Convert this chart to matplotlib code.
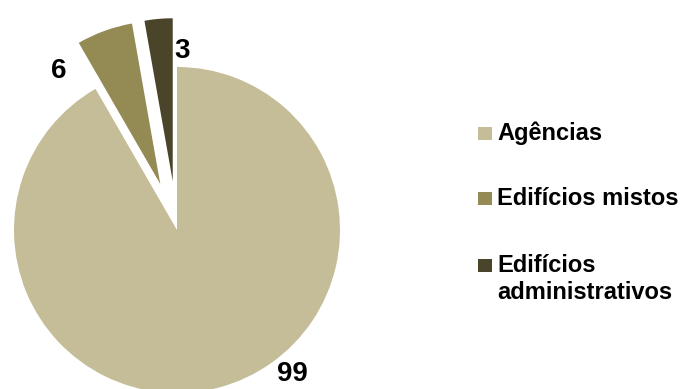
import matplotlib
matplotlib.use("Agg")
import matplotlib.pyplot as plt
from matplotlib.patches import Rectangle

categories = ["Agências", "Edifícios mistos", "Edifícios\nadministrativos"]
values = [99, 6, 3]
colors = ["#C4BD97", "#948A54", "#4A452A"]
explode = [0.0, 0.3, 0.3]

W, H = 682, 389
fig = plt.figure(figsize=(W / 100, H / 100), dpi=100)
fig.patch.set_facecolor("white")

# pie axes: centre at (177, 230) px from top-left, radius 163 px
cx, cy, R = 177, 389 - 230, 163
ax = fig.add_axes([0, 0, 1, 1])

wedges, _ = ax.pie(values, colors=colors, explode=explode, startangle=90,
                   counterclock=False, radius=1.0,
                   wedgeprops=dict(linewidth=0))

ax.set_xlim(-cx / R, (W - cx) / R)
ax.set_ylim(-cy / R, (H - cy) / R)
ax.set_aspect("equal")
ax.axis("off")

# value labels placed around the pie (x centre, baseline)
label_pos = [(0.706, -0.926), (-0.724, 0.933), (0.031, 1.055)]
for v, (lx, ly) in zip(values, label_pos):
    ax.text(lx, ly, str(v), ha="center", va="baseline",
            fontsize=20, fontweight="bold", family="Liberation Sans",
            color="black")

# legend drawn as squares + text on the right
baselines = [140, 205, 272]
for lab, col, yb in zip(categories, colors, baselines):
    fig.patches.append(Rectangle((478 / W, 1 - yb / H), 14 / W, 13 / H,
                                 transform=fig.transFigure, facecolor=col,
                                 edgecolor="none"))
    lines = lab.split("\n")
    for k, line in enumerate(lines):
        fig.text(497 / W, 1 - (yb + 27 * k) / H, line, ha="left",
                 va="baseline", fontsize=17, fontweight="bold",
                 family="Liberation Sans", color="black")

fig.savefig("out.png", dpi=100)
